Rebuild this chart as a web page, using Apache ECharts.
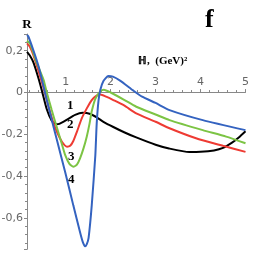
<!DOCTYPE html>
<html><head><meta charset="utf-8">
<script src="https://cdn.jsdelivr.net/npm/echarts@6/dist/echarts.min.js"></script>
<style>html,body{margin:0;padding:0;background:#fff}#c{width:272px;height:278px}</style>
</head><body><div id="c"></div>
<script>
const curveLabels = ["1", "2", "3", "4"];
const xTicks = [1, 2, 3, 4, 5];
const yTicks = [-0.6, -0.4, -0.2, 0, 0.2];
const black = [[0.14,0.195],[0.2,0.178],[0.28,0.145],[0.4,0.065],[0.47,0.01],[0.58,-0.08],[0.69,-0.135],[0.78,-0.152],[0.86,-0.15],[1.03,-0.13],[1.21,-0.107],[1.38,-0.097],[1.55,-0.103],[1.7,-0.12],[1.84,-0.14],[2.06,-0.165],[2.3,-0.19],[2.57,-0.215],[3,-0.25],[3.3,-0.268],[3.75,-0.285],[4,-0.284],[4.3,-0.277],[4.5,-0.265],[4.7,-0.24],[4.85,-0.215],[5,-0.185]];
const red = [[0.14,0.235],[0.2,0.22],[0.28,0.18],[0.4,0.1],[0.51,0.02],[0.62,-0.068],[0.73,-0.147],[0.82,-0.195],[0.92,-0.237],[1.03,-0.259],[1.1,-0.255],[1.17,-0.232],[1.25,-0.188],[1.36,-0.123],[1.47,-0.076],[1.58,-0.036],[1.68,-0.016],[1.77,-0.01],[1.9,-0.02],[2.06,-0.036],[2.3,-0.062],[2.57,-0.1],[3,-0.14],[3.31,-0.171],[3.9,-0.219],[4.5,-0.255],[5,-0.284]];
const green = [[0.14,0.248],[0.21,0.233],[0.36,0.14],[0.51,0.06],[0.58,0.0],[0.69,-0.084],[0.8,-0.164],[0.92,-0.25],[0.99,-0.3],[1.08,-0.34],[1.17,-0.355],[1.25,-0.345],[1.32,-0.315],[1.4,-0.265],[1.47,-0.21],[1.53,-0.15],[1.58,-0.09],[1.66,-0.03],[1.77,0.005],[1.85,0.013],[2.0,0.0],[2.3,-0.035],[2.57,-0.068],[3,-0.105],[3.31,-0.132],[4.05,-0.18],[4.57,-0.211],[5,-0.243]];
const blue = [[0.14,0.275],[0.17,0.268],[0.28,0.203],[0.4,0.123],[0.51,0.028],[0.58,-0.036],[0.69,-0.13],[0.8,-0.223],[0.99,-0.382],[1.17,-0.54],[1.32,-0.669],[1.38,-0.715],[1.43,-0.736],[1.47,-0.725],[1.51,-0.695],[1.58,-0.54],[1.66,-0.3],[1.69,-0.15],[1.73,-0.04],[1.77,0.012],[1.84,0.055],[1.95,0.079],[2.05,0.076],[2.21,0.057],[2.5,0.01],[2.7,-0.02],[3,-0.05],[3.31,-0.084],[4.05,-0.132],[5,-0.18]];

const chart = echarts.init(document.getElementById('c'), null, {renderer: 'canvas'});
const serif = '"Liberation Serif","DejaVu Serif",serif';
function isTick(v, list){ return list.some(t => Math.abs(t - v) < 1e-6); }
const mk = (data, color, z) => ({type:'line', data, smooth:0.2, symbol:'none', z, lineStyle:{color, width:2}});
chart.setOption({
  animation:false,
  grid:{left:27, right:26.5, top:34, bottom:28.75, outerBoundsMode:'none'},
  title:{text:'f', left:200, top:2, textStyle:{fontFamily:serif, fontWeight:'bold', fontSize:26, color:'#000'}},
  xAxis:{type:'value', min:0.14, max:5, splitNumber:5, position:'bottom', offset:-157.2,
    axisLine:{onZero:false, lineStyle:{color:'#888', width:1}},
    axisTick:{show:true, inside:true, length:3, lineStyle:{color:'#888'}},
    minorTick:{show:true, splitNumber:5, length:2, lineStyle:{color:'#888'}},
    splitLine:{show:false},
    axisLabel:{inside:true, margin:4, fontSize:11, color:'#666', fontFamily:'"DejaVu Sans",sans-serif',
      formatter:v => isTick(v, xTicks) ? String(v) : ''}
  },
  yAxis:{type:'value', min:-0.75, max:0.28, splitNumber:5,
    name:'R', nameLocation:'end', nameGap:3,
    nameTextStyle:{fontFamily:serif, fontWeight:'bold', fontSize:13, color:'#000', align:'center'},
    axisLine:{lineStyle:{color:'#888', width:1}},
    axisTick:{show:true, length:3, lineStyle:{color:'#888'}},
    minorTick:{show:true, splitNumber:5, length:2, lineStyle:{color:'#888'}},
    splitLine:{show:false},
    axisLabel:{margin:4, fontSize:11, color:'#666', fontFamily:'"DejaVu Sans",sans-serif',
      formatter:v => isTick(v, yTicks) ? (Math.abs(v)<1e-9 ? '0' : String(Math.round(v*10)/10).replace('.', ',')) : ''}
  },
  graphic:[
    {type:'text', left:138, top:56, style:{text:'ℍ,  (GeV)²', font:'bold 11px '+serif, fill:'#000'}},
    {type:'text', left:67, top:99, style:{text:curveLabels[0], font:'bold 13px '+serif, fill:'#000'}},
    {type:'text', left:67, top:118, style:{text:curveLabels[1], font:'bold 13px '+serif, fill:'#000'}},
    {type:'text', left:68, top:150, style:{text:curveLabels[2], font:'bold 13px '+serif, fill:'#000'}},
    {type:'text', left:68, top:173, style:{text:curveLabels[3], font:'bold 13px '+serif, fill:'#000'}}
  ],
  series:[mk(black,'#000000',2), mk(red,'#ee3b33',3), mk(green,'#7cc444',4), mk(blue,'#3463c0',5)]
});
</script></body></html>
